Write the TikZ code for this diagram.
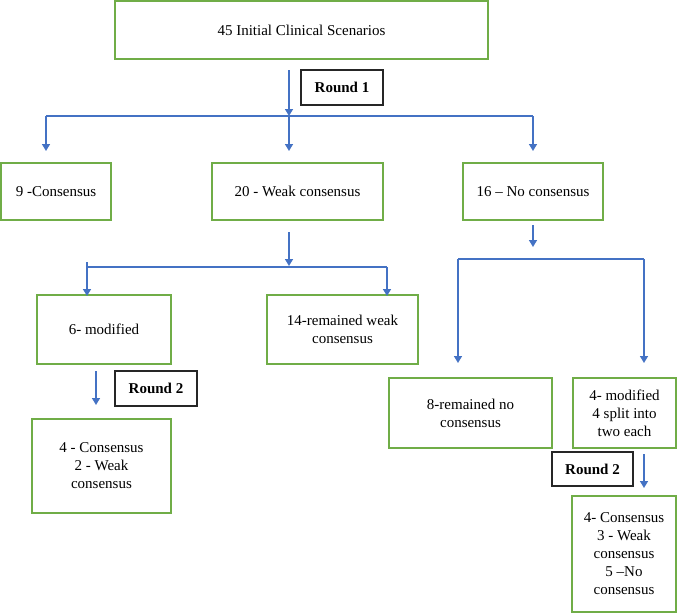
\documentclass[tikz,border=0pt]{standalone}
\usepackage{fontspec}
\setmainfont{Liberation Serif}
\usetikzlibrary{arrows.meta}
\definecolor{boxgreen}{HTML}{70AD47}
\definecolor{arrowblue}{HTML}{4472C4}
\begin{document}
\begin{tikzpicture}[x=1pt,y=-1pt,
  gbox/.style={draw=boxgreen, line width=1.8pt, align=center, inner sep=0pt, outer sep=0pt, font=\fontsize{15}{18}\selectfont},
  rbox/.style={draw=black!85, line width=1.4pt, inner sep=0pt, outer sep=0pt, font=\fontsize{15}{18}\selectfont\bfseries},
  conn/.style={draw=arrowblue, line width=1.2pt},
  arr/.style={draw=arrowblue, line width=1.5pt, -{Triangle[width=8pt,length=7pt]}}
]
\useasboundingbox (0,0) rectangle (685,613);
% boxes
\node[gbox, minimum width=373pt, minimum height=58pt] (top) at (301.5,30) {45 Initial Clinical Scenarios};
\node[rbox, minimum width=82pt, minimum height=35pt] (round1) at (342,87.5) {Round 1};
\node[gbox, minimum width=110pt, minimum height=57pt] (c9) at (56,191.5) {9 -Consensus};
\node[gbox, minimum width=171pt, minimum height=57pt] (w20) at (297.5,191.5) {20 - Weak consensus};
\node[gbox, minimum width=140pt, minimum height=57pt] (n16) at (533,191.5) {16 – No consensus};
\node[gbox, minimum width=134pt, minimum height=69pt] (mod6) at (104,329.5) {6- modified};
\node[gbox, minimum width=151pt, minimum height=69pt] (w14) at (342.5,329.5) {14-remained weak\\consensus};
\node[rbox, minimum width=82pt, minimum height=35pt] (round2a) at (156,388.5) {Round 2};
\node[gbox, minimum width=139pt, minimum height=94pt] (res1) at (101.5,466) {4 - Consensus\\2 - Weak\\consensus};
\node[gbox, minimum width=163pt, minimum height=70pt] (n8) at (470.5,413) {8-remained no\\consensus};
\node[gbox, minimum width=103pt, minimum height=70pt] (mod4) at (624.5,413) {4- modified\\4 split into\\two each};
\node[rbox, minimum width=81pt, minimum height=34pt] (round2b) at (592.5,469) {Round 2};
\node[gbox, minimum width=104pt, minimum height=116pt] (res2) at (624,554) {4- Consensus\\3 - Weak\\consensus\\5 –No\\consensus};
% connector points
\coordinate (a0) at (289,70);
\coordinate (j1) at (289,116);
\coordinate (l1) at (46,116);
\coordinate (r1) at (533,116);
\coordinate (t9) at (46,151);
\coordinate (t20) at (289,151);
\coordinate (t16) at (533,151);
\coordinate (b0) at (289,232);
\coordinate (j2) at (289,266);
\coordinate (l2top) at (87,262);
\coordinate (l2) at (87,267);
\coordinate (r2) at (387,267);
\coordinate (t6) at (87,296);
\coordinate (t14) at (387,296);
\coordinate (c0) at (533,225);
\coordinate (c1) at (533,247);
\coordinate (l3) at (458,259);
\coordinate (r3) at (644,259);
\coordinate (t8) at (458,363);
\coordinate (tm4) at (644,363);
\coordinate (d0) at (96,371);
\coordinate (d1) at (96,405);
\coordinate (e0) at (644,454);
\coordinate (e1) at (644,488);
% connectors
\draw[arr] (a0) -- (j1);
\draw[conn] (l1) -- (r1);
\draw[arr] (l1) -- (t9);
\draw[arr] (j1) -- (t20);
\draw[arr] (r1) -- (t16);
\draw[arr] (b0) -- (j2);
\draw[conn] (l2) -- (r2);
\draw[arr] (l2top) -- (t6);
\draw[arr] (r2) -- (t14);
\draw[arr] (c0) -- (c1);
\draw[conn] (l3) -- (r3);
\draw[arr] (l3) -- (t8);
\draw[arr] (r3) -- (tm4);
\draw[arr] (d0) -- (d1);
\draw[arr] (e0) -- (e1);
\end{tikzpicture}
\end{document}
